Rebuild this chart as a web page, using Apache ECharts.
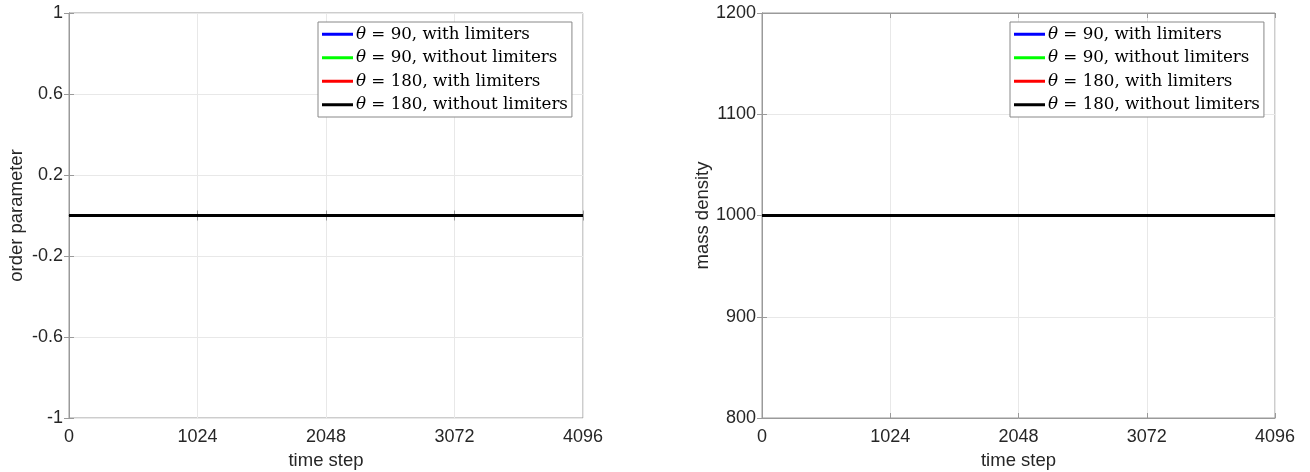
<!DOCTYPE html>
<html>
<head>
<meta charset="utf-8">
<script src="https://cdn.jsdelivr.net/npm/echarts@6/dist/echarts.min.js"></script>
<style>html,body{margin:0;padding:0;background:#fff}#c{width:1310px;height:472px}</style>
</head>
<body>
<div id="c"></div>
<script>
// ---- data ----
const timeSteps = [0, 1024, 2048, 3072, 4096];
const xTicks = [0, 1024, 2048, 3072, 4096];
const orderTicks = [-1, -0.6, -0.2, 0.2, 0.6, 1];
const densityTicks = [800, 900, 1000, 1100, 1200];
const seriesNames = ['θ = 90, with limiters', 'θ = 90, without limiters', 'θ = 180, with limiters', 'θ = 180, without limiters'];
const seriesColors = ['#0000ff', '#00ff00', '#ff0000', '#000000'];
// order parameter
const order90Lim = [0, 0, 0, 0, 0];
const order90NoLim = [0, 0, 0, 0, 0];
const order180Lim = [0, 0, 0, 0, 0];
const order180NoLim = [0, 0, 0, 0, 0];
// mass density
const dens90Lim = [1000, 1000, 1000, 1000, 1000];
const dens90NoLim = [1000, 1000, 1000, 1000, 1000];
const dens180Lim = [1000, 1000, 1000, 1000, 1000];
const dens180NoLim = [1000, 1000, 1000, 1000, 1000];

const orderSets = [order90Lim, order90NoLim, order180Lim, order180NoLim];
const densSets = [dens90Lim, dens90NoLim, dens180Lim, dens180NoLim];

function pairs(vals) { return timeSteps.map((t, i) => [t, vals[i]]); }

const tickFont = { color: '#262626', fontSize: 18, fontFamily: 'Liberation Sans, Arial, sans-serif' };
const nameFont = { color: '#262626', fontSize: 18.5, fontFamily: 'Liberation Sans, Arial, sans-serif' };
const gridColor = '#e8e8e8';
const boxColor = '#9a9a9a';
const plain = v => String(v);

function xAxes(gi) {
  return [{
    type: 'value', gridIndex: gi, min: 0, max: 4096, interval: 1024,
    name: 'time step', nameLocation: 'middle', nameGap: 33,
    nameTextStyle: nameFont,
    axisLine: { show: true, lineStyle: { color: boxColor } },
    axisTick: { show: true, inside: true, length: 5, lineStyle: { color: boxColor } },
    axisLabel: Object.assign({ margin: 10, customValues: xTicks, formatter: plain }, tickFont),
    splitLine: { show: true, lineStyle: { color: gridColor } }
  }, {
    type: 'value', gridIndex: gi, position: 'top', min: 0, max: 4096, interval: 1024,
    axisLine: { show: true, lineStyle: { color: boxColor } },
    axisTick: { show: true, inside: true, length: 5, lineStyle: { color: boxColor } },
    axisLabel: { show: false }, splitLine: { show: false }
  }];
}

function yAxes(gi, min, max, interval, ticks, name, gap) {
  return [{
    type: 'value', gridIndex: gi, min: min, max: max, interval: interval,
    name: name, nameLocation: 'middle', nameGap: gap, nameRotate: 90,
    nameTextStyle: nameFont,
    axisLine: { show: true, lineStyle: { color: boxColor } },
    axisTick: { show: true, inside: true, length: 5, customValues: ticks, lineStyle: { color: boxColor } },
    axisLabel: Object.assign({ margin: 6, customValues: ticks, formatter: plain }, tickFont),
    splitLine: { show: true, lineStyle: { color: gridColor } }
  }, {
    type: 'value', gridIndex: gi, position: 'right', min: min, max: max, interval: interval,
    axisLine: { show: true, lineStyle: { color: boxColor } },
    axisTick: { show: true, inside: true, length: 5, customValues: ticks, lineStyle: { color: boxColor } },
    axisLabel: { show: false }, splitLine: { show: false }
  }];
}

const series = [];
[orderSets, densSets].forEach((sets, gi) => {
  sets.forEach((vals, si) => {
    series.push({
      name: seriesNames[si], type: 'line', xAxisIndex: gi * 2, yAxisIndex: gi * 2,
      data: pairs(vals), showSymbol: false, symbol: 'none', animation: false,
      lineStyle: { color: seriesColors[si], width: 3 }, itemStyle: { color: seriesColors[si] },
      z: 2 + si
    });
  });
});

function legend(left) {
  return {
    left: left, top: 22, orient: 'vertical',
    data: seriesNames,
    itemWidth: 31, itemHeight: 3, itemGap: 5,
    icon: 'rect',
    padding: [3, 4, 3, 4],
    borderColor: '#888', borderWidth: 1, backgroundColor: '#fff',
    selectedMode: false,
    formatter: function (n) { return '{i|θ}' + n.slice(1); },
    textStyle: {
      color: '#000', fontSize: 16.7, lineHeight: 18.5, fontFamily: 'DejaVu Serif, serif', padding: [0, 0, 0, -2],
      rich: { i: { fontStyle: 'italic', fontSize: 16.7, fontFamily: 'DejaVu Serif, serif', color: '#000' } }
    }
  };
}

const chart = echarts.init(document.getElementById('c'));
chart.setOption({
  animation: false,
  grid: [
    { left: 69, top: 13, width: 514, height: 405, show: true, borderColor: boxColor, borderWidth: 1, outerBoundsMode: 'none', containLabel: false },
    { left: 762, top: 13, width: 513, height: 405, show: true, borderColor: boxColor, borderWidth: 1, outerBoundsMode: 'none', containLabel: false }
  ],
  xAxis: xAxes(0).concat(xAxes(1)),
  yAxis: yAxes(0, -1, 1, 0.4, orderTicks, 'order parameter', 43).concat(
         yAxes(1, 800, 1200, 100, densityTicks, 'mass density', 50)),
  legend: [legend(318), legend(1010)],
  series: series
});
</script>
</body>
</html>
